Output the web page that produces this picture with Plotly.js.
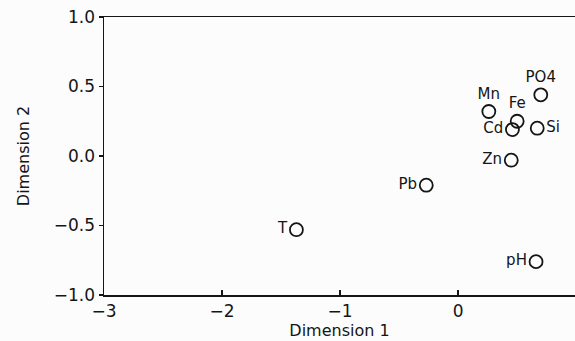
<!DOCTYPE html>
<html><head><meta charset="utf-8">
<script src="https://cdn.plot.ly/plotly-3.0.1.min.js"></script>
<style>html,body{margin:0;padding:0;background:#fcfcfc;}</style>
</head><body>
<div id="chart" style="width:575px;height:341px;"></div>
<script>
const labels = ["PO4", "Mn", "Fe", "Cd", "Si", "Zn", "Pb", "T", "pH"];
const dim1 = [0.70, 0.26, 0.50, 0.46, 0.67, 0.45, -0.27, -1.37, 0.66];
const dim2 = [0.44, 0.32, 0.25, 0.19, 0.20, -0.03, -0.21, -0.53, -0.76];
const positions = ["top center", "top center", "top center", "middle left", "middle right", "middle left", "middle left", "middle left", "middle left"];
const xTickVals = [-3, -2, -1, 0, 1];
const xTickText = ["\u22123", "\u22122", "\u22121", "0", "1"];
const yTickVals = [-1, -0.5, 0, 0.5, 1];
const yTickText = ["\u22121.0", "\u22120.5", "0.0", "0.5", "1.0"];

const fontFam = "DejaVu Sans, Arial, sans-serif";
const ink = "#151515";
const trace = {
  x: dim1, y: dim2, text: labels, type: "scatter", mode: "markers+text",
  textposition: positions,
  textfont: {family: fontFam, size: 15, color: ink},
  marker: {symbol: "circle-open", size: 13, color: ink, line: {width: 1.8, color: ink}},
  cliponaxis: false, hoverinfo: "none"
};
const layout = {
  width: 575, height: 341,
  margin: {l: 104, r: 0, t: 17, b: 46},
  paper_bgcolor: "#fcfcfc", plot_bgcolor: "#fcfcfc",
  showlegend: false,
  xaxis: {
    range: [-3, 0.99], tickvals: xTickVals, ticktext: xTickText,
    showgrid: false, zeroline: false, showline: true, mirror: true,
    linecolor: ink, linewidth: 1.5, ticks: "inside", ticklen: 5, tickwidth: 1.3, tickcolor: ink,
    tickfont: {family: fontFam, size: 17, color: ink},
    title: {text: "Dimension 1", font: {family: fontFam, size: 16, color: ink}, standoff: 0}
  },
  yaxis: {
    range: [-1, 1], tickvals: yTickVals, ticktext: yTickText,
    showgrid: false, zeroline: false, showline: true,
    linecolor: ink, linewidth: 1.5, ticks: "outside", ticklen: 4, tickwidth: 1.3, tickcolor: ink,
    tickfont: {family: fontFam, size: 17, color: ink},
    title: {text: "Dimension 2", font: {family: fontFam, size: 16, color: ink}, standoff: 20}
  }
};
Plotly.newPlot("chart", [trace], layout, {staticPlot: true, displayModeBar: false});
</script>
</body></html>
